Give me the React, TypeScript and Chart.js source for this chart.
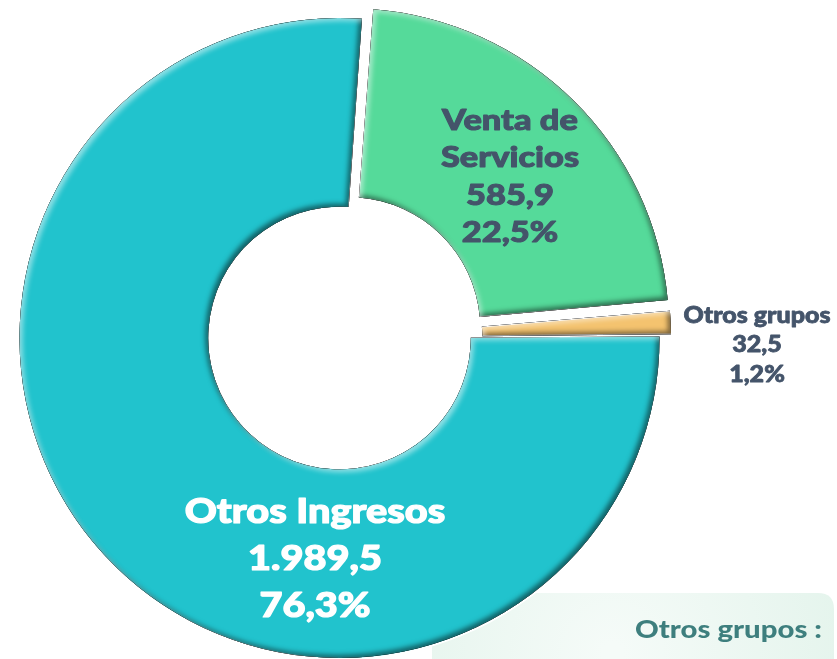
import React, { useEffect, useRef } from "react";
import { Chart, registerables } from "chart.js";

Chart.register(...registerables);

// ---- data ----
const categories = ["Venta de Servicios", "Otros grupos", "Otros Ingresos"];
const labelLines = [["Venta de", "Servicios"], ["Otros grupos"], ["Otros Ingresos"]];
const values = [585.9, 32.5, 1989.5];
const valueLabels = ["585,9", "32,5", "1.989,5"];
const percentLabels = ["22,5%", "1,2%", "76,3%"];
const noteTitle = "Otros grupos :";

// ---- styles ----
const colors = ["#55DA9A", "#F4C36F", "#21C3CD"];
const offsets = [53, 24, 0];
const textColors = ["#44546A", "#44546A", "#FFFFFF"];
const fontSizes = [28, 22, 35];
const lineHeights = [37.5, 29.2, 47];
const firstLineWidths = [137, 148, 262];
const labelOffsets = [
  [170.5, -162],
  [417.5, 6.5],
  [-24.5, 219.5],
];
const FONT = "'Lato Black', 'Lato Heavy', Lato, 'Open Sans', sans-serif";

function arcPath(ctx: CanvasRenderingContext2D, cx: number, cy: number, r0: number, r1: number, a0: number, a1: number) {
  ctx.moveTo(cx + Math.cos(a0) * r1, cy + Math.sin(a0) * r1);
  ctx.arc(cx, cy, r1, a0, a1);
  ctx.lineTo(cx + Math.cos(a1) * r0, cy + Math.sin(a1) * r0);
  ctx.arc(cx, cy, r0, a1, a0, true);
  ctx.closePath();
}

function innerShadow(ctx: CanvasRenderingContext2D, geo: any, color: string, dx: number, dy: number, blur: number) {
  const { cx, cy, r0, r1, a0, a1 } = geo;
  ctx.save();
  ctx.beginPath();
  arcPath(ctx, cx, cy, r0, r1, a0, a1);
  ctx.clip();
  ctx.beginPath();
  ctx.rect(-2000, -2000, 5000, 5000);
  arcPath(ctx, cx, cy, r0, r1, a0, a1);
  ctx.shadowColor = color;
  ctx.shadowBlur = blur;
  ctx.shadowOffsetX = dx;
  ctx.shadowOffsetY = dy;
  ctx.fillStyle = "#000";
  ctx.fill("evenodd");
  ctx.restore();
}

// draws heavy, horizontally fitted text
function heavyText(ctx: CanvasRenderingContext2D, t: string, x: number, y: number, sx: number, lw: number) {
  ctx.save();
  ctx.translate(x, y);
  ctx.scale(sx, 1);
  if (lw > 0) {
    ctx.lineWidth = lw;
    ctx.lineJoin = "round";
    ctx.strokeStyle = ctx.fillStyle as string;
    ctx.strokeText(t, 0, 0);
  }
  ctx.fillText(t, 0, 0);
  ctx.restore();
}

const notePlugin = {
  id: "noteBox",
  beforeDatasetsDraw(chart: any) {
    const ctx: CanvasRenderingContext2D = chart.ctx;
    ctx.save();
    const x = 432, y = 593, w = 402, h = 100, r = 16;
    const g = ctx.createRadialGradient(x + w * 0.45, y + h * 0.6, 10, x + w * 0.45, y + h * 0.6, w * 0.6);
    g.addColorStop(0, "#F5FBF8");
    g.addColorStop(1, "#E4F4EC");
    ctx.fillStyle = g;
    ctx.beginPath();
    ctx.moveTo(x + r, y);
    ctx.lineTo(x + w - r, y);
    ctx.quadraticCurveTo(x + w, y, x + w, y + r);
    ctx.lineTo(x + w, y + h);
    ctx.lineTo(x, y + h);
    ctx.lineTo(x, y + r);
    ctx.quadraticCurveTo(x, y, x + r, y);
    ctx.closePath();
    ctx.fill();
    ctx.fillStyle = "#3E7F7E";
    ctx.font = `bold 25px ${FONT}`;
    ctx.textAlign = "right";
    ctx.textBaseline = "alphabetic";
    const mw = ctx.measureText(noteTitle).width;
    const sx = 187 / mw;
    heavyText(ctx, noteTitle, 822, 638, sx, 0);
    ctx.restore();
  },
};

const bevelLabelPlugin = {
  id: "bevelLabels",
  afterDatasetsDraw(chart: any) {
    const ctx: CanvasRenderingContext2D = chart.ctx;
    const meta = chart.getDatasetMeta(0);
    meta.data.forEach((el: any) => {
      const p = el.getProps(["x", "y", "startAngle", "endAngle", "innerRadius", "outerRadius", "circumference"], true);
      const off = (el.options.offset || 0) / 4;
      const half = (p.startAngle + p.endAngle) / 2;
      const fix = 1 - Math.sin(Math.min(Math.PI, p.circumference || 0));
      const ro = off * fix;
      const bw = (el.options.borderWidth || 0) / 2;
      const geo = {
        cx: p.x + Math.cos(half) * off,
        cy: p.y + Math.sin(half) * off,
        r0: p.innerRadius + ro + bw,
        r1: p.outerRadius + ro - bw,
        a0: p.startAngle + bw / (p.outerRadius + ro),
        a1: p.endAngle - bw / (p.outerRadius + ro),
      };
      innerShadow(ctx, geo, "rgba(0,0,0,0.5)", -3, -3, 5);
      innerShadow(ctx, geo, "rgba(255,255,255,0.5)", 3, 3, 5);
    });
    // labels
    const c = meta.data[0];
    const cx = c.x, cy = c.y;
    ctx.save();
    ctx.textAlign = "center";
    ctx.textBaseline = "alphabetic";
    categories.forEach((_, i) => {
      const lines = [...labelLines[i], valueLabels[i], percentLabels[i]];
      const fs = fontSizes[i];
      const lh = lineHeights[i];
      const ax = cx + labelOffsets[i][0];
      const ay = cy + labelOffsets[i][1];
      ctx.fillStyle = textColors[i];
      ctx.font = `900 ${fs}px ${FONT}`;
      const lw = fs * 0.035;
      const mw = ctx.measureText(lines[0]).width + lw;
      const sx = firstLineWidths[i] / mw;
      const n = lines.length;
      lines.forEach((t, k) => {
        const y = ay + (k - (n - 1) / 2) * lh + fs * 0.36;
        heavyText(ctx, t, ax, y, sx, lw);
      });
    });
    ctx.restore();
  },
};

export default function App() {
  const ref = useRef<HTMLCanvasElement | null>(null);
  useEffect(() => {
    if (!ref.current) return;
    const chart = new Chart(ref.current, {
      type: "doughnut",
      data: {
        labels: categories,
        datasets: [
          {
            data: values,
            backgroundColor: colors,
            borderColor: "#FFFFFF",
            borderWidth: 2,
            offset: offsets,
            hoverOffset: 0,
          } as any,
        ],
      },
      options: {
        animation: false,
        responsive: false,
        devicePixelRatio: 1,
        rotation: 4.2,
        cutout: "40.6%",
        radius: 321,
        layout: { padding: { left: 0, right: 158, top: 17, bottom: 0 } },
        plugins: {
          legend: { display: false },
          tooltip: { enabled: false },
        },
        events: [],
      } as any,
      plugins: [notePlugin, bevelLabelPlugin],
    });
    return () => chart.destroy();
  }, []);
  return (
    <div style={{ position: "fixed", left: 0, top: 0, width: 837, height: 659, overflow: "hidden", background: "#fff" }}>
      <canvas ref={ref} width={837} height={659} style={{ width: 837, height: 659, display: "block" }} />
    </div>
  );
}
